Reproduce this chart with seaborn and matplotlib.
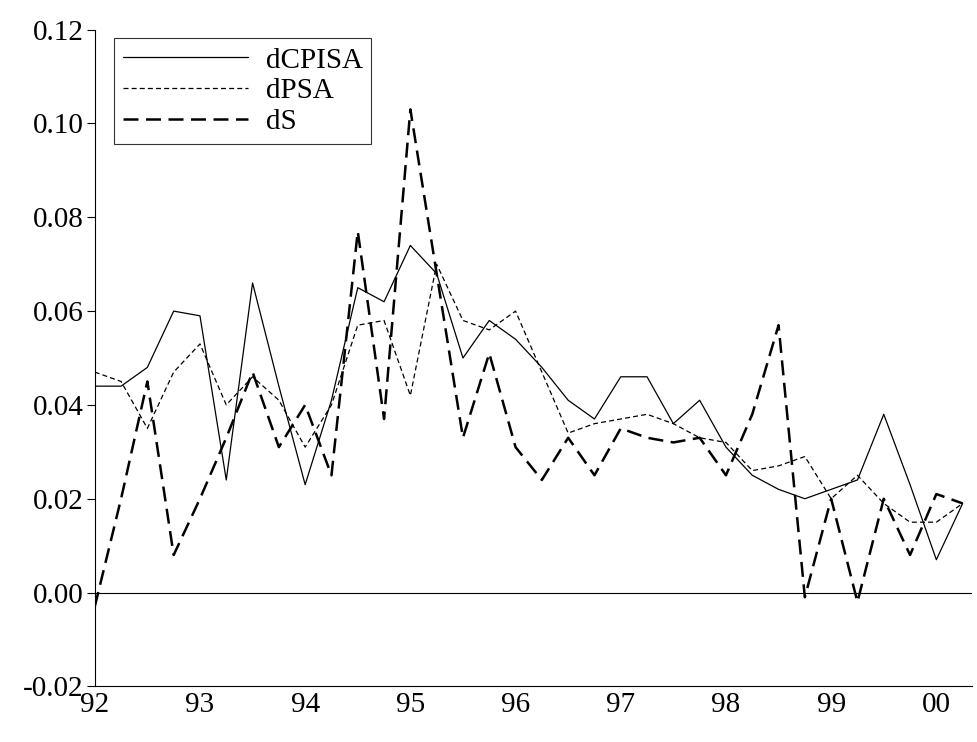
import matplotlib
matplotlib.use("Agg")
import matplotlib.pyplot as plt
import seaborn as sns
import numpy as np
import pandas as pd

sns.set_style("white")
plt.rcParams['font.family'] = ['Liberation Serif', 'DejaVu Serif']
plt.rcParams['text.color'] = 'black'
plt.rcParams['xtick.color'] = 'black'
plt.rcParams['ytick.color'] = 'black'

dCPISA = [0.044, 0.044, 0.048, 0.060, 0.059, 0.024, 0.066, 0.044, 0.023, 0.041, 0.065, 0.062,
          0.074, 0.068, 0.050, 0.058, 0.054, 0.048, 0.041, 0.037, 0.046, 0.046, 0.036, 0.041,
          0.031, 0.025, 0.022, 0.020, 0.022, 0.024, 0.038, 0.023, 0.007, 0.019]
dPSA = [0.047, 0.045, 0.035, 0.047, 0.053, 0.040, 0.046, 0.041, 0.031, 0.040, 0.057, 0.058,
        0.042, 0.070, 0.058, 0.056, 0.060, 0.047, 0.034, 0.036, 0.037, 0.038, 0.036, 0.033,
        0.032, 0.026, 0.027, 0.029, 0.020, 0.025, 0.019, 0.015, 0.015, 0.019]
dS = [-0.003, 0.020, 0.045, 0.008, 0.020, 0.033, 0.047, 0.031, 0.040, 0.025, 0.077, 0.037,
      0.103, 0.068, 0.033, 0.051, 0.031, 0.024, 0.033, 0.025, 0.035, 0.033, 0.032, 0.033,
      0.025, 0.038, 0.057, -0.001, 0.020, -0.002, 0.020, 0.008, 0.021, 0.019]
year_labels = ["92", "93", "94", "95", "96", "97", "98", "99", "00"]

t = 1992 + np.arange(len(dS)) * 0.25
df = pd.DataFrame({"t": t, "dCPISA": dCPISA, "dPSA": dPSA, "dS": dS})

fig, ax = plt.subplots(figsize=(9.77, 7.42), dpi=100)
fig.subplots_adjust(left=0.097, right=0.995, bottom=0.075, top=0.96)

sns.lineplot(data=df, x="t", y="dCPISA", ax=ax, color="black", lw=0.9, label="dCPISA")
sns.lineplot(data=df, x="t", y="dPSA", ax=ax, color="black", lw=0.9, ls=(0, (4, 2.5)), label="dPSA")
sns.lineplot(data=df, x="t", y="dS", ax=ax, color="black", lw=1.8, ls=(0, (6, 3)), label="dS")
ax.axhline(0, color="black", lw=0.8)

ax.set_xlim(1992, 2000.34)
ax.set_ylim(-0.02, 0.12)
ax.set_xticks(np.arange(1992, 2001))
ax.set_xticklabels(year_labels)
ax.set_xticks(np.arange(1992, 2000.3, 0.25), minor=True)
ax.set_yticks(np.arange(-0.02, 0.121, 0.02))
ax.set_yticklabels([f"{v:.2f}" for v in np.arange(-0.02, 0.121, 0.02)])
ax.tick_params(axis="x", which="both", direction="in", length=12, width=0.8, labelsize=21, pad=4)
ax.tick_params(axis="y", direction="out", length=6, width=0.8, labelsize=21, pad=2, left=True)
ax.set_xlabel("")
ax.set_ylabel("")
for s in ["top", "right"]:
    ax.spines[s].set_visible(False)
for s in ["left", "bottom"]:
    ax.spines[s].set_color("black")
    ax.spines[s].set_linewidth(0.8)

leg = ax.legend(loc="upper left", bbox_to_anchor=(0.012, 1.0), fontsize=21, frameon=True,
                fancybox=False, edgecolor="black", handlelength=4.3, handletextpad=0.6,
                borderpad=0.3, labelspacing=0.15, borderaxespad=0.3)
leg.get_frame().set_linewidth(0.8)

fig.savefig("out.png", dpi=100)
